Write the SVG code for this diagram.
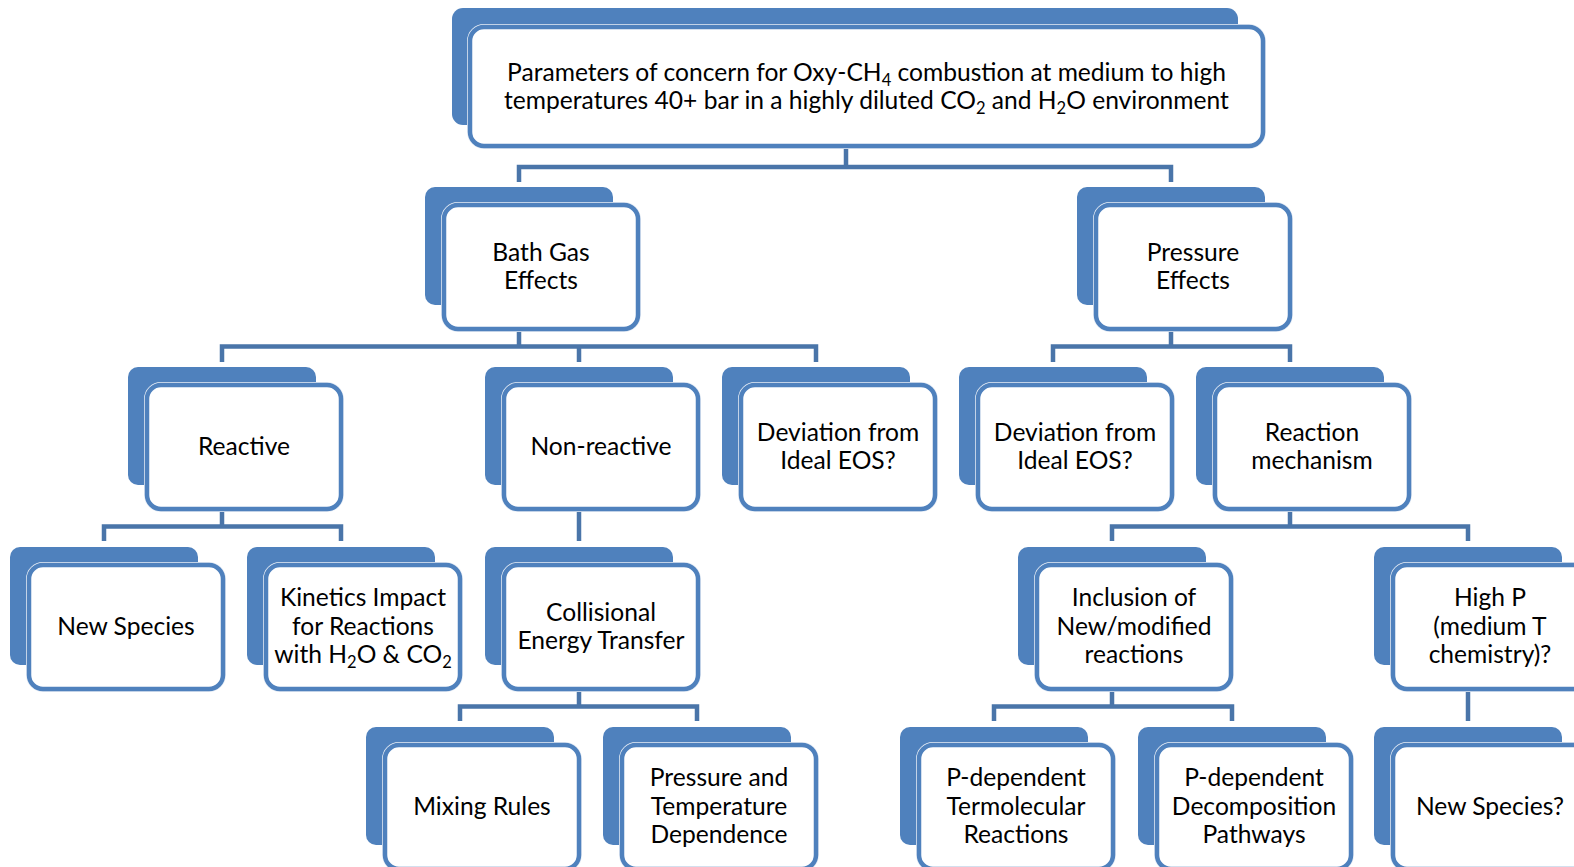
<svg xmlns="http://www.w3.org/2000/svg" width="1574" height="867" viewBox="0 0 1574 867">
<style>
.back{fill:#4F81BD}
.halo{fill:#fff;stroke:#E8EEF6;stroke-width:6}
.front{fill:#fff;stroke:#4F81BD;stroke-width:4.5}
.conn{fill:none;stroke:#4A75A9;stroke-width:4.5}
.t{font-family:Lato,"Noto Sans",sans-serif;font-size:24.6px;fill:#000;text-anchor:middle}
.s{font-size:16.5px}
</style>
<rect width="1574" height="867" fill="#fff"/>
<g id="connectors">
<path class="conn" d="M846,146V167M519,182V167H1171V182"/>
<path class="conn" d="M519,331V346.5M222,362V346.5H816V362M579,346.5V362"/>
<path class="conn" d="M1171,331V346.5M1053,362V346.5H1290V362"/>
<path class="conn" d="M222,509V526.5M104,541V526.5H341V541"/>
<path class="conn" d="M579,509V541"/>
<path class="conn" d="M1290,509V526.5M1112,541V526.5H1468V541"/>
<path class="conn" d="M579,689V706.5M460,721V706.5H697V721"/>
<path class="conn" d="M1112,689V706.5M994,721V706.5H1232V721"/>
<path class="conn" d="M1468,689V721"/>
</g>
<g id="n-top">
<rect class="back" x="452" y="8" width="786" height="117" rx="11"/>
<rect class="halo" x="470" y="27" width="793" height="119" rx="14"/>
<rect class="front" x="470" y="27" width="793" height="119" rx="14"/>
<text class="t" x="866.5" y="80.5">Parameters of concern for Oxy-CH<tspan class="s" dy="5">4</tspan><tspan dy="-5"> combustion at medium to high</tspan></text>
<text class="t" x="866.5" y="109">temperatures 40+ bar in a highly diluted CO<tspan class="s" dy="5">2</tspan><tspan dy="-5"> and H</tspan><tspan class="s" dy="5">2</tspan><tspan dy="-5">O environment</tspan></text>
</g>
<g id="n-bath">
<rect class="back" x="425" y="187" width="188" height="118" rx="10"/>
<rect class="halo" x="444" y="205" width="194" height="124" rx="14"/>
<rect class="front" x="444" y="205" width="194" height="124" rx="14"/>
<text class="t" x="541" y="260.5">Bath Gas</text>
<text class="t" x="541" y="289">Effects</text>
</g>
<g id="n-pressure">
<rect class="back" x="1077" y="187" width="188" height="118" rx="10"/>
<rect class="halo" x="1096" y="205" width="194" height="124" rx="14"/>
<rect class="front" x="1096" y="205" width="194" height="124" rx="14"/>
<text class="t" x="1193" y="260.5">Pressure</text>
<text class="t" x="1193" y="289">Effects</text>
</g>
<g id="n-reactive">
<rect class="back" x="128" y="367" width="188" height="118" rx="10"/>
<rect class="halo" x="147" y="385" width="194" height="124" rx="14"/>
<rect class="front" x="147" y="385" width="194" height="124" rx="14"/>
<text class="t" x="244" y="454.5">Reactive</text>
</g>
<g id="n-nonreactive">
<rect class="back" x="485" y="367" width="188" height="118" rx="10"/>
<rect class="halo" x="504" y="385" width="194" height="124" rx="14"/>
<rect class="front" x="504" y="385" width="194" height="124" rx="14"/>
<text class="t" x="601" y="454.5">Non-reactive</text>
</g>
<g id="n-dev-bath">
<rect class="back" x="722" y="367" width="188" height="118" rx="10"/>
<rect class="halo" x="741" y="385" width="194" height="124" rx="14"/>
<rect class="front" x="741" y="385" width="194" height="124" rx="14"/>
<text class="t" x="838" y="440.5">Deviation from</text>
<text class="t" x="838" y="469">Ideal EOS?</text>
</g>
<g id="n-dev-pressure">
<rect class="back" x="959" y="367" width="188" height="118" rx="10"/>
<rect class="halo" x="978" y="385" width="194" height="124" rx="14"/>
<rect class="front" x="978" y="385" width="194" height="124" rx="14"/>
<text class="t" x="1075" y="440.5">Deviation from</text>
<text class="t" x="1075" y="469">Ideal EOS?</text>
</g>
<g id="n-mechanism">
<rect class="back" x="1196" y="367" width="188" height="118" rx="10"/>
<rect class="halo" x="1215" y="385" width="194" height="124" rx="14"/>
<rect class="front" x="1215" y="385" width="194" height="124" rx="14"/>
<text class="t" x="1312" y="440.5">Reaction</text>
<text class="t" x="1312" y="469">mechanism</text>
</g>
<g id="n-newspecies">
<rect class="back" x="10" y="547" width="188" height="118" rx="10"/>
<rect class="halo" x="29" y="565" width="194" height="124" rx="14"/>
<rect class="front" x="29" y="565" width="194" height="124" rx="14"/>
<text class="t" x="126" y="634.5">New Species</text>
</g>
<g id="n-kinetics">
<rect class="back" x="247" y="547" width="188" height="118" rx="10"/>
<rect class="halo" x="266" y="565" width="194" height="124" rx="14"/>
<rect class="front" x="266" y="565" width="194" height="124" rx="14"/>
<text class="t" x="363" y="606">Kinetics Impact</text>
<text class="t" x="363" y="634.5">for Reactions</text>
<text class="t" x="363" y="663">with H<tspan class="s" dy="5">2</tspan><tspan dy="-5">O &amp; CO</tspan><tspan class="s" dy="5">2</tspan></text>
</g>
<g id="n-collisional">
<rect class="back" x="485" y="547" width="188" height="118" rx="10"/>
<rect class="halo" x="504" y="565" width="194" height="124" rx="14"/>
<rect class="front" x="504" y="565" width="194" height="124" rx="14"/>
<text class="t" x="601" y="620.5">Collisional</text>
<text class="t" x="601" y="649">Energy Transfer</text>
</g>
<g id="n-inclusion">
<rect class="back" x="1018" y="547" width="188" height="118" rx="10"/>
<rect class="halo" x="1037" y="565" width="194" height="124" rx="14"/>
<rect class="front" x="1037" y="565" width="194" height="124" rx="14"/>
<text class="t" x="1134" y="606">Inclusion of</text>
<text class="t" x="1134" y="634.5">New/modified</text>
<text class="t" x="1134" y="663">reactions</text>
</g>
<g id="n-highp">
<rect class="back" x="1374" y="547" width="188" height="118" rx="10"/>
<rect class="halo" x="1393" y="565" width="194" height="124" rx="14"/>
<rect class="front" x="1393" y="565" width="194" height="124" rx="14"/>
<text class="t" x="1490" y="606">High P</text>
<text class="t" x="1490" y="634.5">(medium T</text>
<text class="t" x="1490" y="663">chemistry)?</text>
</g>
<g id="n-mixing">
<rect class="back" x="366" y="727" width="188" height="118" rx="10"/>
<rect class="halo" x="385" y="745" width="194" height="124" rx="14"/>
<rect class="front" x="385" y="745" width="194" height="124" rx="14"/>
<text class="t" x="482" y="814.5">Mixing Rules</text>
</g>
<g id="n-ptdep">
<rect class="back" x="603" y="727" width="188" height="118" rx="10"/>
<rect class="halo" x="622" y="745" width="194" height="124" rx="14"/>
<rect class="front" x="622" y="745" width="194" height="124" rx="14"/>
<text class="t" x="719" y="786">Pressure and</text>
<text class="t" x="719" y="814.5">Temperature</text>
<text class="t" x="719" y="843">Dependence</text>
</g>
<g id="n-termolecular">
<rect class="back" x="900" y="727" width="188" height="118" rx="10"/>
<rect class="halo" x="919" y="745" width="194" height="124" rx="14"/>
<rect class="front" x="919" y="745" width="194" height="124" rx="14"/>
<text class="t" x="1016" y="786">P-dependent</text>
<text class="t" x="1016" y="814.5">Termolecular</text>
<text class="t" x="1016" y="843">Reactions</text>
</g>
<g id="n-decomposition">
<rect class="back" x="1138" y="727" width="188" height="118" rx="10"/>
<rect class="halo" x="1157" y="745" width="194" height="124" rx="14"/>
<rect class="front" x="1157" y="745" width="194" height="124" rx="14"/>
<text class="t" x="1254" y="786">P-dependent</text>
<text class="t" x="1254" y="814.5">Decomposition</text>
<text class="t" x="1254" y="843">Pathways</text>
</g>
<g id="n-newspecies2">
<rect class="back" x="1374" y="727" width="188" height="118" rx="10"/>
<rect class="halo" x="1393" y="745" width="194" height="124" rx="14"/>
<rect class="front" x="1393" y="745" width="194" height="124" rx="14"/>
<text class="t" x="1490" y="814.5">New Species?</text>
</g>
</svg>
